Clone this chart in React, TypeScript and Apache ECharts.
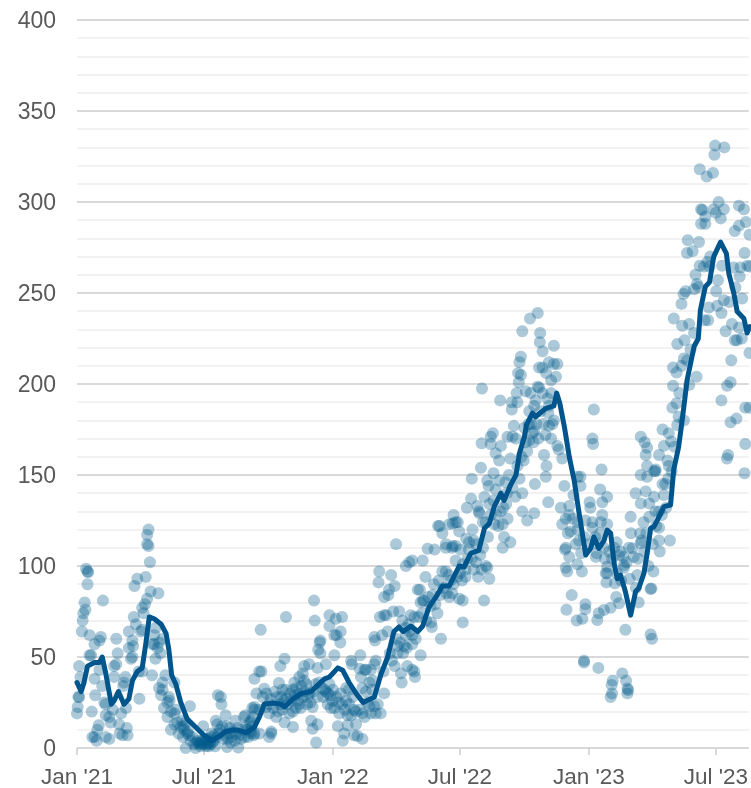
import React, { useEffect, useRef } from "react";
import * as echarts from "echarts";

const xTickDays = [0, 181, 365, 546, 730, 911];
const xTickLabels = ["Jan '21", "Jul '21", "Jan '22", "Jul '22", "Jan '23", "Jul '23"];

// [days since 1 Jan 2021, value]
const trendLine = [
  [0,36],[6,31],[10,36],[15,45],[25,47],[32,47],[36,50],[41,41],[49,24],[53,26],[59,31],[67,24],[74,27],[79,37],[86,42],[93,44],[98,57],[103,72],[110,71],[120,68],[127,63],[131,54],[135,40],[141,35],[148,25],[157,16],[169,11.5],[181,7],[193,4],[203,6.5],[212,9],[222,10],[231,9.7],[241,8.5],[246,9.7],[253,11.5],[260,17],[267,24],[279,24.7],[291,24],[296,22.5],[308,27],[320,30],[334,31],[343,34.4],[353,38],[360,39],[372,44],[379,42.7],[388,36],[398,30],[408,25],[424,28],[433,40],[443,50],[452,64],[459,66.5],[465,64],[476,67],[486,64],[493,67],[502,77.5],[512,83],[521,89],[531,89],[545,100],[552,99.5],[561.5,107],[573,108.6],[581,120.7],[588,123.4],[595,132.6],[604.5,140],[609,136],[619,145],[626,150],[631,162],[638,171],[641,177.5],[649.5,184],[654,182],[668.5,186.6],[680,188],[684,195],[688.5,189.4],[695,176.5],[702,160],[709,147],[716,129],[725.5,106],[732.5,109.7],[737,116],[744,109.7],[751.5,114],[756,119.7],[761,118],[766,101.4],[770.5,93],[775,95],[782,86],[789.5,73],[796.6,86],[801,87.7],[808.5,96],[813,107],[818,120.7],[822.7,121.6],[830,127],[837,132.6],[846.4,133.5],[851,153],[858,165.5],[863,180],[870,202],[880,220.6],[886,225],[889,240.7],[896,253.5],[902,256],[908,270],[917.7,278],[926,271.8],[929.5,260.8],[936.7,249.8],[941.4,239.8],[951,236],[955.6,228],[959.4,231.5],
];

const points2021a = [
  [1,22.5],[0,19],[3,28],[2,28],[5,39],[3,45],[7,64],[8,70],[9,74],[12,76],[11,80],[13,98.5],[15,97],[16,96.5],[15,90],[18,62],[18,51],[20,51],[25,38],[26,29],[21,20],[22,6],[25,6],[28,4],[29,10],[31,12.5],[25,57],[32,59],[34,61],[37,81],[32,43],[36,34],[39,25],[41,24],[41,6],[46,5],[41,18],[46,17],[48,14],[51,21],[53,39],[53,45],[56,46],[58,52],[56,60],[60,13],[61,8],[65,7],[72,7],[71,11],[63,19],[70,22],[67,36],[69,39],[66,34],[74,64],[74,55],[77,49],[79,50],[80,56],[79,59],[81,72],[84,68],[82,89],[86,93],[89,27],[88,42],[93,42],[91,64],[93,65],[95,74],[93,77],[97,79],[100,82],[98,94],[105,86],[116,85],[104,102],[102,111],[100,112],[100,117],[102,120],[107,40],[110,62],[112,66],[108,57],[110,57],[117,58],[112,49],[119,52],[115,55],[122,60],
];
const points2021b = [
  [126,40],[122,36],[117,33],[120,29],[122,32],[139,36],[131,28],[129,25],[132,26],[124,22],[129,17],[134,20],[139,19],[141,21],[134,10],[139,13],[143,14],[148,11.5],[153,10],[151,6],[161,23],[155,0],[157,8],[162,4],[169,0],[167,2],[174,3],[176,1],[180,12],[184,1],[188,1],[201,29],[206,24],[205,28],[198,15],[200,13],[192,8],[195,4],[212,18],[214,0.5],[216,8],[221,6],[226,15],[230,0.3],[238,17],[240,18],[243,10],[250,22],[248,8],
  [145,8],[150,15],[152,12],[155,14],[158,9],[160,7],[165,6],[170,3],[172,4],[175,2],[177,3],[178,4],[180,2],[182,3],[183,5],[185,2],[186,3],[187,5],[189,3],[190,2],[191,6],[193,3],[196,7],[197,1],[199,6],[202,8],[204,10],[207,12],[209,5],[211,7],[213,12],[215,5],[218,11],[219,3],[223,9],[225,4],[227,8],[229,11],[232,7],[234,5],[236,10],[239,6],[241,12],[244,6],[246,9],[247,14],[249,12],[251,17],[252,7],
];
const points2021c = [
  [248,15],[253,22.5],[253,38],[263,42],[260,42],[256,30],[267,32.6],[262,65],[298,72],[338,81],[339,70],[360,73],[369,71],[378,72],[360,67],[376,64],[367,62],[370,62],[375.5,58],[347,59],[346,58],[344,54],[347,52],[367,51],[296,49],[290,45],[324,45],[331,46],[343,44],[355,46],
  [288,35.7],[293,32],[298,32],[282,31],[253,21],[260,21],[274,19],[284,17],[270,22.5],[274,24],[289,24],[293,21],[303,19],[308,11.5],[277,8],[274,6],[277,9],[253,8],[260,8],[296,14],[310,36],[317,39],[322,41],[324,37],[308,32],[320,34],[327,35],[329,28],[315,26],[317,24],[308,20],[312,22],[334,15],[336,10.6],[343,13],[341,3],[336,22.5],[343,28],[357.5,24],[362,22],[353,32],[365,32],[360,35],
];
const points2022a = [
  [391,48],[404,51],[392,46],[412,43],[410,43],[426,48],[424,46],[419,43],[403,43.6],[405,39],[421.5,37],[417,36],
  [374,19],[372,12],[386,12.5],[398,13],[381,8],[379,4],[395,7],[400,6.6],[407,5],[384,33],[388,32],[393,28],[384,26],[388,24],[395,21],[398,20],[376,30],[410,17],[419,19],[424,23],[433,19],[426,19],[438,30],[407,19],[417,23],[412,31],[407,33],[421,32],
  [431,97],[430,91],[448,95],[453,89],[445,87],[444,84],[438,83],[455,112],[432,72],[438,73],[441,73],[451,75],[459.5,75],[424,61],[425,59],[435,62],[443,64],[464,70],[476,73],[481,72],[468,66],[474,64],[469,62],[457,56],[467,56],[457,52],[478,57],[490,51],[471,45],[478,43],[481,42],[462,41],[463,36],[482,39],
  [519,60],[550,69],[580.5,81],[550,81],[545,82],[506,66.5],[505,69],[514,74],[493,81],[490,80],[495,81],[486,87],[489,87],[497,94],[509,90],[516,92],[521,97],[526,97],[530,95],[535,85],[531,83],[540,103],[550,101],[554,94],[554,98],[559,109],[569,102],[583,100],[585,99],[588,93],[577,98],[469,100],[478,103],[474,102],[493,103],[500,109.5],[510,109],[526,110],[535,110],[547,109],[559,113],[569,112],[515,122],[531,123],[540,124],[583,124],[595,123],
];
const points2022b = [
  [657,239],[646,236],[635,229],[660.5,228],[660,223],[680,221],[664,218],[633,215],[631,212],[673,212],[680,211],[685,211],[659,209],[664,209],[669,206],[629,206],[633,205],[630,201],[683,204],[676,202],[657,198.5],[659,198],[640,196],[647,195],[577.5,197.5],[627,195],[603.5,191],[620,190],[620,186],[628,190],[654,191],[676,195],[671,192],[673,188],[652,188],[645,185],[737,186],[735,170],[736,167],[748,153],[680,180],[678,178],[673,177],[665,178],[623,177],[638,176],[621,171],[614,171],[626,170],[593,173],[590,171],[590,167],[577,167.4],[604.5,166],[652,174],[650,173],[651,168],[645,169],[685,166],[687,164],[666,161],[597,162],[602,158],[618,159],[692,159],[669.5,155],[576,154],[668.5,149],[594,151],[563,148],[585,147],[602,147],[611,146],[587,144],[653,145],[695,144],[714,149],[718,149],[718,144],[597,142],[635,140],[581,138],[562,137],[571,133],[588,134],[612,134],[556,132],[574,129],[573,130],[672,135],[690,132],[702,133],[746,142],[756,138],[749,135],[731,135],[732,132],[708,139],[537,128],[635,130],[652,129],[642,125],[614,126],[607,123],[601,122],[579,124],[536,123.4],[543,124],[517,122],[521,118],[545,119],[564,120],[692,123],[702,128],[707,126],[714,124],[704,119],[714,120],[725,125],[735,124],[749,128],[756,123],[609,116],[618,113],[555,115],[566,114],[607,110],[526,112],[536,111],[540,111],[716,114],[697,110],[735,121],[747,124],
];
const points2023a = [
  [953,167],[928.5,161],[927,159],[952,151],[804,150],[813,149],[823,152],[825,152],[813,155],[825,153],[830,161],[811,161],[813,165],[837,166],[842,158],[844,155],[839,145],[835,145],[796.6,140],[811,141],[823,138],[837,139],[804,134.4],[816,134.4],[789.5,127],[830,130],[825,130],[816,127],[808,124],[830,121],[830,114],[845.5,114],[831,108],[805,114],[804,112.5],[769.5,113],[792,109.7],[775,108],[773,106],[794,105],[741,107],[740,105],[696,109],[702,105],[713.6,101],[697,99],[699,97],[720,97],[756,99.6],[756,96],[754,96],[780,100.5],[780,99],[822,97],[799,95],[788,93],[755,91],[767,90.5],[819,87.7],[818,87.3],[797,88],[801,80],[769,83],[773,79.5],[705.5,84],[725,79],[725,76.3],[698,76],[751.5,75.8],[761,77],[744,74],[720.7,71],[712.6,70],[742,70.3],[782,65],[818,62.4],[820,60],[723,48],[723,47],[743.5,44],[777.6,41],[783,37],[764,37],[762.5,34.6],[763,30],[761,28],[785,32.7],[786,31.8],[785,30],
];
const points2023b = [
  [910,331],[923,330],[909,326],[888,318],[907,316],[898,314],[915,300],[890,296],[892,295.6],[944,298],[951,296],[908,296],[922.4,296],[911,294],[918,291],[896,292],[890,288],[896,288],[954,289],[944,287],[938,284],[959,282],[871,279],[887,278],[870,272],[878,273],[903,270],[952,272],[899,267],[888,265],[894,264.5],[902,264.5],[920,265],[936,264],[946,264],[956,265],[959,264.5],[945,259],[882,260],[914,257],[884,255],[886,253.5],[880,252],[868,251],[865,249.5],[911.5,251],[862,244],[922.4,246],[930,245],[913,243],[901,242],[919,239],[939,253],[948.5,247],[851,236],[900,235],[895,235],[863,232],[873,233],[934,233],[944,231],[880,228],[925,229],[866.4,224],[856,222],[938,224],[941,224],[948,225],[875,219],[959,217],[933,213],[870,213],[865.5,214],[862,210],[850,209],[855,206.3],[883.5,204],[932,201],[927,199],[850,199],[873,199.5],[859,195],[919,191],[849,187],[855,189.4],[953,187],[959,187],[940.4,181],[932,179],[858,182],[865.5,180],[856,177.5],[804,171],[809.5,168],[835,175],[844,173],[847.4,168.4],[852,165.5],
];
const pointsDense = [
  [265,28],[270,30],[276,27],[280,22],[285,28],[287,20],[291,28],[295,26],[299,27],[301,24],[304,30],[306,26],[311,29],[313,33],[316,30],[319,22],[322,28],[325,31],[328,24],[331,30],[333,25],[337,31],[340,35],[345,36],[349,33],[351,28],[355,31],[358,30],[361,29],[364,26],[367,22],[370,28],[373,25],[378,24],[382,21],[386,18],[391,18],[403,21],[414,25],[429,24],
  [437,42],[446,52],[449,48],[453,45],[455,60],[461,58],[465,52],[470,55],[473,68],[478,62],[483,60],[487,72],[492,74],[498,70],[501,83],[504,78],[507,84],[511,79],[518,84],[523,88],[527,85],[533,92],[537,90],[542,94],[546,96],[549,92],[557,104],[563,104],[566,98],[572,94],[575,106],[579,110],[586,116],[590,128],[594,136],[598,128],[604,130],[608,132],[613,140],[616,150],[621,143],[625,138],[628,155],[631,148],[634,160],[637,158],[640,168],[642,163],[644,178],[648,178],[655,178],[658,170],[661,185],[664,195],[668,172],[672,184],[676,170],
  [697,126],[700,118],[711,112],[719,107],[723,116],[728,112],[739,116],[743,112],[746,118],[751,110],[753,104],[759,108],[763,104],[766,110],[770,96],[776,92],[779,105],[784,102],[787,110],[790,118],[800,104],[803,118],[809,108],[812,118],[815,100],[821,112],[826,122],[834,128],[840,132],[843,148],[848,152],
];

const allPoints = [...points2021a, ...points2021b, ...points2021c, ...points2022a, ...points2022b, ...points2023a, ...points2023b, ...pointsDense];

export default function App() {
  const ref = useRef<HTMLDivElement>(null);
  useEffect(() => {
    const chart = echarts.init(ref.current!, null, { renderer: "svg" });
    chart.setOption({
      animation: false,
      grid: { left: 77, right: 0, top: 20, bottom: 40 },
      textStyle: { fontFamily: "Liberation Sans" },
      xAxis: {
        type: "value",
        min: 0,
        max: 958,
        axisLine: { show: false },
        splitLine: { show: false },
        axisTick: { show: true, length: 7, customValues: xTickDays, lineStyle: { color: "#cccccc", width: 1.5 } },
        axisLabel: {
          customValues: xTickDays,
          fontSize: 22.5,
          color: "#595959",
          margin: 17,
          hideOverlap: false,
          showMinLabel: true,
          showMaxLabel: true,
          fontFamily: "Liberation Sans",
          formatter: (v: number) => xTickLabels[xTickDays.indexOf(v)] ?? "",
        },
      },
      yAxis: {
        type: "value",
        min: 0,
        max: 400,
        interval: 50,
        axisLine: { show: false },
        axisTick: { show: false },
        axisLabel: { fontSize: 23, color: "#595959", margin: 21, fontFamily: "Liberation Sans" },
        splitLine: { show: true, lineStyle: { color: "#d9d9d9", width: 2 } },
        minorTick: { show: false, splitNumber: 5 },
        minorSplitLine: { show: true, lineStyle: { color: "#f2f2f2", width: 2 } },
      },
      series: [
        {
          type: "scatter",
          data: allPoints,
          symbolSize: 12,
          clip: false,
          silent: true,
          itemStyle: { color: "#005a8c", opacity: 0.33 },
          z: 2,
        },
        {
          type: "line",
          data: trendLine,
          symbol: "none",
          clip: false,
          silent: true,
          lineStyle: { color: "#00558c", width: 5, join: "round", cap: "round" },
          z: 3,
        },
      ],
    });
    return () => chart.dispose();
  }, []);
  return <div ref={ref} style={{ position: "fixed", left: 0, top: 0, width: 751, height: 788 }} />;
}
